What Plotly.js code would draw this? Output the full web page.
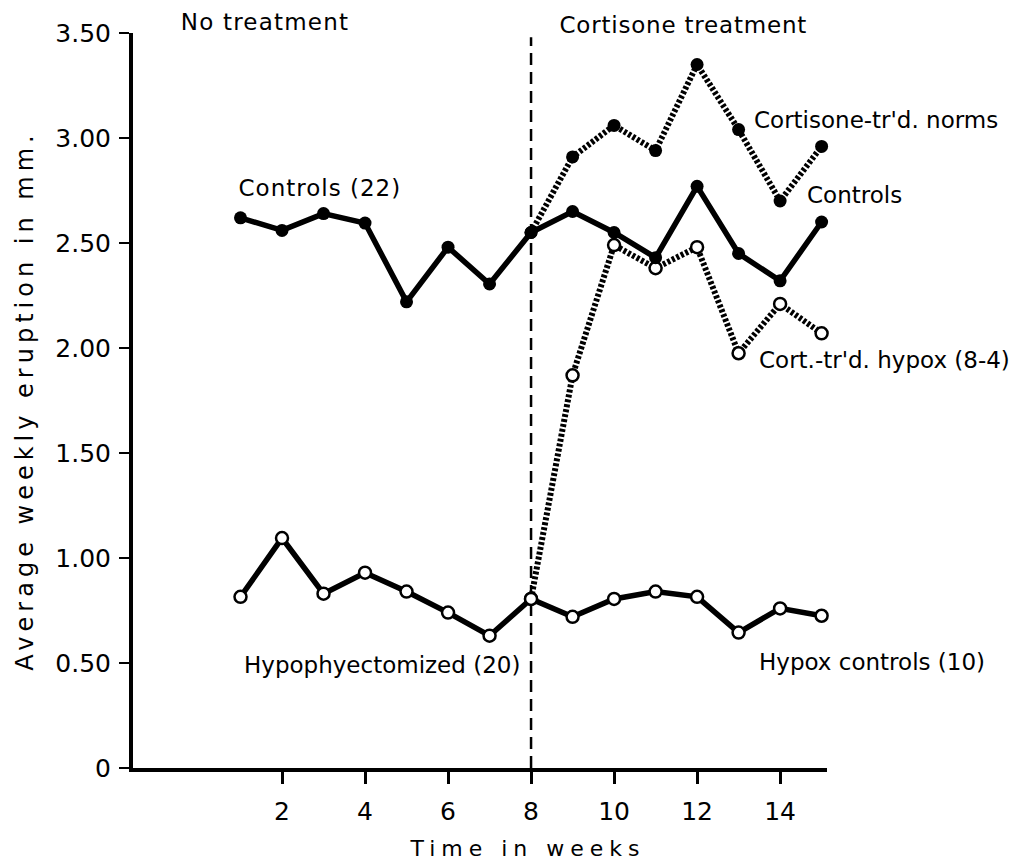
<!DOCTYPE html>
<html>
<head>
<meta charset="utf-8">
<script src="https://cdn.plot.ly/plotly-3.0.1.min.js"></script>
<style>
  html, body { margin: 0; padding: 0; background: #fff; }
  #chart { width: 1032px; height: 861px; }
  .xtitle { letter-spacing: 6px; transform: translateX(48px); }
  .ytitle { letter-spacing: 5px; }
  .annotation[data-index="0"] .annotation-text { letter-spacing: 1.2px; }
  .annotation[data-index="1"] .annotation-text { letter-spacing: 0.8px; }
  .annotation[data-index="5"] .annotation-text { letter-spacing: 1px; }
</style>
</head>
<body>
<div id="chart"></div>
<script>
// ---- Data ----
const weeks = [1, 2, 3, 4, 5, 6, 7, 8, 9, 10, 11, 12, 13, 14, 15];
const controls = [2.62, 2.56, 2.64, 2.595, 2.22, 2.48, 2.305, 2.55, 2.65, 2.55, 2.43, 2.77, 2.45, 2.32, 2.60];
const hypophysectomized = [0.815, 1.095, 0.83, 0.93, 0.84, 0.74, 0.63, 0.805, 0.72, 0.805, 0.84, 0.815, 0.645, 0.76, 0.725];
const treatWeeks = [8, 9, 10, 11, 12, 13, 14, 15];
const cortisoneNorms = [2.55, 2.91, 3.06, 2.94, 3.35, 3.04, 2.70, 2.96];
const cortisoneHypox = [0.805, 1.87, 2.49, 2.38, 2.48, 1.975, 2.21, 2.07];
const treatmentStart = 8;
const yTickVals = [0, 0.5, 1.0, 1.5, 2.0, 2.5, 3.0, 3.5];
const yTickText = ["0", "0.50", "1.00", "1.50", "2.00", "2.50", "3.00", "3.50"];
const xTickVals = [2, 4, 6, 8, 10, 12, 14];

const FONT = "DejaVu Sans, Liberation Sans, sans-serif";
const black = "#000";

const traces = [
  {
    x: treatWeeks, y: cortisoneNorms, mode: "lines+markers", name: "Cortisone-tr'd. norms",
    line: { color: black, width: 6, dash: "3px,2px" },
    marker: { color: black, size: 13 }, cliponaxis: false
  },
  {
    x: treatWeeks, y: cortisoneHypox, mode: "lines+markers", name: "Cort.-tr'd. hypox (8-4)",
    line: { color: black, width: 6, dash: "3px,2px" },
    marker: { color: "#fff", size: 12, line: { color: black, width: 2.5 } }, cliponaxis: false
  },
  {
    x: weeks, y: controls, mode: "lines+markers", name: "Controls (22)",
    line: { color: black, width: 5.5 },
    marker: { color: black, size: 13 }, cliponaxis: false
  },
  {
    x: weeks, y: hypophysectomized, mode: "lines+markers", name: "Hypophyectomized (20)",
    line: { color: black, width: 5.5 },
    marker: { color: "#fff", size: 12, line: { color: black, width: 2.5 } }, cliponaxis: false
  }
];

const annFont = { family: FONT, size: 23, color: black };
function dataLabel(text, x, y) {
  return { text: text, x: x, y: y, xref: "x", yref: "y", xanchor: "left", yanchor: "middle",
           showarrow: false, font: annFont };
}
function paperLabel(text, x, y) {
  return { text: text, x: x, y: y, xref: "paper", yref: "paper", xanchor: "left", yanchor: "middle",
           showarrow: false, font: annFont };
}

const layout = {
  width: 1032, height: 861,
  margin: { l: 133, r: 205, t: 33, b: 93 },
  paper_bgcolor: "#fff", plot_bgcolor: "#fff",
  showlegend: false,
  font: { family: FONT, color: black },
  xaxis: {
    range: [-1.59, 15.13],
    tickvals: xTickVals,
    ticks: "outside", ticklen: 12, tickwidth: 3, tickcolor: black,
    ticklabelstandoff: 6,
    showline: true, linewidth: 4, linecolor: black,
    showgrid: false, zeroline: false,
    tickfont: { family: FONT, size: 25, color: black },
    title: { text: "Time in weeks", font: { family: FONT, size: 22, color: black }, standoff: 18 }
  },
  yaxis: {
    range: [0, 3.5],
    tickvals: yTickVals, ticktext: yTickText,
    ticks: "outside", ticklen: 10, tickwidth: 2, tickcolor: black,
    ticklabelstandoff: 3,
    showline: true, linewidth: 4, linecolor: black,
    showgrid: false, zeroline: false,
    tickfont: { family: FONT, size: 25, color: black },
    title: { text: "Average weekly eruption in mm.", font: { family: FONT, size: 24, color: black }, standoff: 16 }
  },
  shapes: [
    { type: "line", xref: "x", yref: "y", x0: treatmentStart, x1: treatmentStart, y0: 0, y1: 3.48,
      line: { color: black, width: 2.5, dash: "12px,7px" }, layer: "below" }
  ],
  annotations: [
    paperLabel("No treatment", 0.076, 1.015),
    paperLabel("Cortisone treatment", 0.622, 1.011),
    dataLabel("Cortisone-tr'd. norms", 13.33, 3.086),
    dataLabel("Controls", 14.60, 2.729),
    dataLabel("Cort.-tr'd. hypox (8-4)", 13.45, 1.943),
    dataLabel("Controls (22)", 1.06, 2.762),
    dataLabel("Hypophyectomized (20)", 1.036, 0.49),
    dataLabel("Hypox controls (10)", 13.45, 0.505)
  ]
};

Plotly.newPlot("chart", traces, layout, { displayModeBar: false, staticPlot: true });
</script>
</body>
</html>
